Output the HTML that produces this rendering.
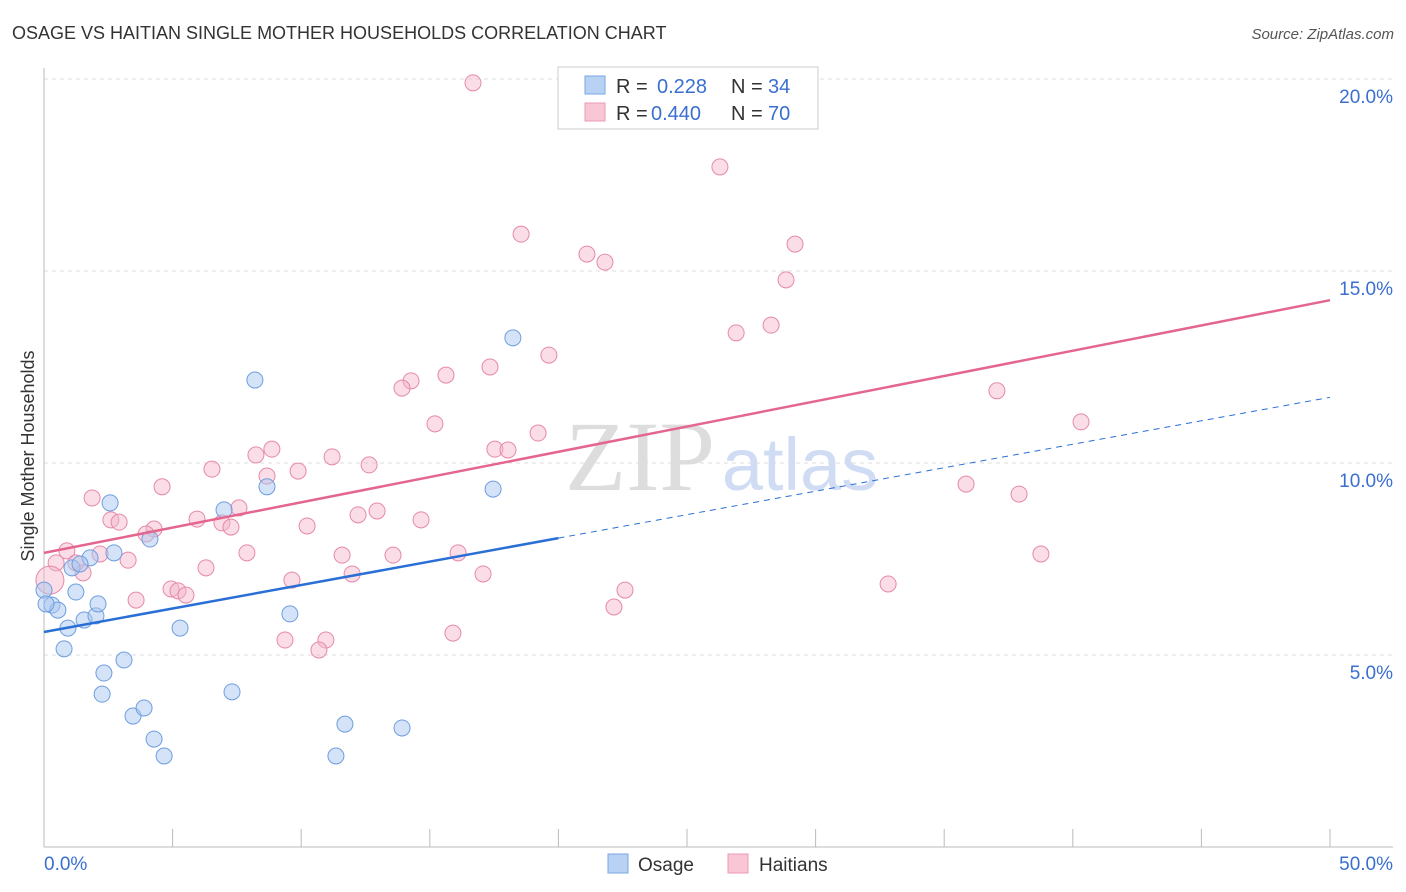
<!DOCTYPE html>
<html><head><meta charset="utf-8"><style>
body{margin:0;background:#fff;font-family:"Liberation Sans",sans-serif}
svg{display:block}
</style></head><body>
<svg id="chart" width="1406" height="892" xmlns="http://www.w3.org/2000/svg">
<text x="12" y="39" font-size="18" fill="#333">OSAGE VS HAITIAN SINGLE MOTHER HOUSEHOLDS CORRELATION CHART</text>
<text x="1394" y="39" font-size="15" fill="#555" font-style="italic" text-anchor="end">Source: ZipAtlas.com</text>
<g id="grid"></g>
<text x="640" y="490" font-size="100" fill="#ddd" font-family="Liberation Serif,serif" text-anchor="middle">ZIP</text>
<text x="800" y="490" font-size="74" fill="#cfdcf3" text-anchor="middle">atlas</text>
<g id="marks"></g>
<text transform="translate(34,456) rotate(-90)" font-size="18" fill="#333" text-anchor="middle">Single Mother Households</text>
<g>
<rect x="558" y="67" width="260" height="62" fill="#fff" stroke="#ccc"/>
<rect x="585" y="76" width="20" height="18" fill="#b8d2f4" stroke="#7aa6e4"/>
<text y="93" font-size="20" fill="#333"><tspan x="616">R =</tspan><tspan x="657" fill="#3a6fd0">0.228</tspan><tspan x="731">N =</tspan><tspan x="768" fill="#3a6fd0">34</tspan></text>
<rect x="585" y="103" width="20" height="18" fill="#f8c6d5" stroke="#ec9ab5"/>
<text y="120" font-size="20" fill="#333"><tspan x="616">R =</tspan><tspan x="651" fill="#3a6fd0">0.440</tspan><tspan x="731">N =</tspan><tspan x="768" fill="#3a6fd0">70</tspan></text>
</g>
<g>
<rect x="608" y="854" width="20" height="19" fill="#b8d2f4" stroke="#7aa6e4"/>
<text x="638" y="871" font-size="19" fill="#333">Osage</text>
<rect x="728" y="854" width="20" height="19" fill="#f8c6d5" stroke="#ec9ab5"/>
<text x="759" y="871" font-size="19" fill="#333">Haitians</text>
</g>
</svg>
<script>
const yTicks=[5,10,15,20];
const yTickLabels=["5.0%","10.0%","15.0%","20.0%"];
const xTickLabels=["0.0%","50.0%"];
const osageX=[0.0,0.31,0.54,0.93,0.78,1.09,1.24,1.56,1.79,2.02,2.10,2.33,2.26,1.40,2.57,2.72,3.11,3.46,3.89,4.28,4.67,4.12,5.29,7.00,7.31,8.20,8.67,9.56,11.35,11.70,13.92,17.46,18.23,0.08];
const osageY=[6.69,6.30,6.17,5.70,5.16,7.27,6.64,5.91,7.53,6.02,6.33,4.53,3.98,7.37,8.96,7.66,4.87,3.41,3.62,2.81,2.37,8.02,5.70,8.78,4.04,12.16,9.38,6.07,2.37,3.20,3.10,9.32,13.26,6.33];
const haitiX=[16.68,26.28,18.55,29.20,21.11,21.81,28.85,28.27,26.91,19.63,17.34,15.63,14.27,13.92,37.05,40.32,15.20,19.21,17.53,18.04,8.86,8.24,11.20,6.53,12.64,9.88,8.67,4.59,35.85,37.91,1.87,7.58,12.95,12.21,14.66,5.95,2.60,2.92,6.92,7.27,10.23,4.28,3.97,0.89,2.18,7.89,11.59,13.57,16.10,38.76,3.27,0.47,1.24,6.30,1.52,17.07,11.98,9.64,32.82,4.94,5.21,5.52,22.59,3.58,22.16,15.90,10.96,9.37,10.69,0.23];
const haitiY=[19.90,17.71,15.96,15.70,15.44,15.23,14.77,13.59,13.39,12.81,12.50,12.29,12.14,11.95,11.88,11.07,11.02,10.78,10.36,10.34,10.36,10.21,10.16,9.84,9.95,9.79,9.66,9.38,9.45,9.19,9.09,8.83,8.75,8.65,8.52,8.54,8.52,8.46,8.44,8.33,8.36,8.28,8.15,7.71,7.63,7.66,7.60,7.60,7.66,7.63,7.47,7.40,7.40,7.27,7.14,7.11,7.11,6.95,6.85,6.72,6.67,6.56,6.69,6.43,6.25,5.57,5.39,5.39,5.13,6.95];
const osageFit=[5.60,0.1222];
const haitiFit=[7.66,0.1316];
const NS="http://www.w3.org/2000/svg";
const sx=v=>44+v*25.72, sy=v=>847-v*38.4;
const grid=document.getElementById('grid'), marks=document.getElementById('marks'), svg=document.getElementById('chart');
function mk(p,tag,a){const e=document.createElementNS(NS,tag);for(const k in a)e.setAttribute(k,a[k]);p.appendChild(e);return e;}
yTicks.forEach((t,i)=>{
 const l=mk(grid,'line',{x1:44,x2:1393,y1:sy(t),y2:sy(t),stroke:'#ddd','stroke-dasharray':'4,4'});
 
 
 const tx=mk(svg,'text',{x:1393,y:sy(t)+24,'font-size':19,fill:'#3a6fd0','text-anchor':'end'});tx.textContent=yTickLabels[i];
 
 
});
mk(grid,'line',{x1:44,x2:44,y1:68,y2:847,stroke:'#bbb'});
mk(grid,'line',{x1:44,x2:1393,y1:847,y2:847,stroke:'#bbb'});
for(let i=0;i<=10;i++){mk(grid,'line',{x1:sx(i*5),x2:sx(i*5),y1:829,y2:847,stroke:'#bbb'});}
[[0,'start',44],[50,'end',1393]].forEach((d,i)=>{const tx=mk(svg,'text',{x:d[2],y:870,'font-size':19,fill:'#3a6fd0','text-anchor':d[1]});tx.textContent=xTickLabels[i];
 
 });
haitiX.forEach((x,i)=>{const c=mk(marks,'circle',{cx:sx(x),cy:sy(haitiY[i]),r:i==haitiX.length-1?14:8,fill:'#f4b3c8','fill-opacity':0.45,stroke:'#e58aa8','stroke-width':1});
 
 });
osageX.forEach((x,i)=>{const c=mk(marks,'circle',{cx:sx(x),cy:sy(osageY[i]),r:8,fill:'#a9c8f0','fill-opacity':0.5,stroke:'#6e9ee0','stroke-width':1});
 
 });
const f=(fit,x)=>fit[0]+fit[1]*x;
let l1=mk(marks,'line',{x1:sx(0),y1:sy(f(osageFit,0)),x2:sx(20),y2:sy(f(osageFit,20)),stroke:'#2a6fd6','stroke-width':2.5});


let l2=mk(marks,'line',{x1:sx(20),y1:sy(f(osageFit,20)),x2:sx(50),y2:sy(f(osageFit,50)),stroke:'#2a6fd6','stroke-width':1,'stroke-dasharray':'6,5'});


let l3=mk(marks,'line',{x1:sx(0),y1:sy(f(haitiFit,0)),x2:sx(50),y2:sy(f(haitiFit,50)),stroke:'#e4668f','stroke-width':2.5});


</script>
</body></html>
